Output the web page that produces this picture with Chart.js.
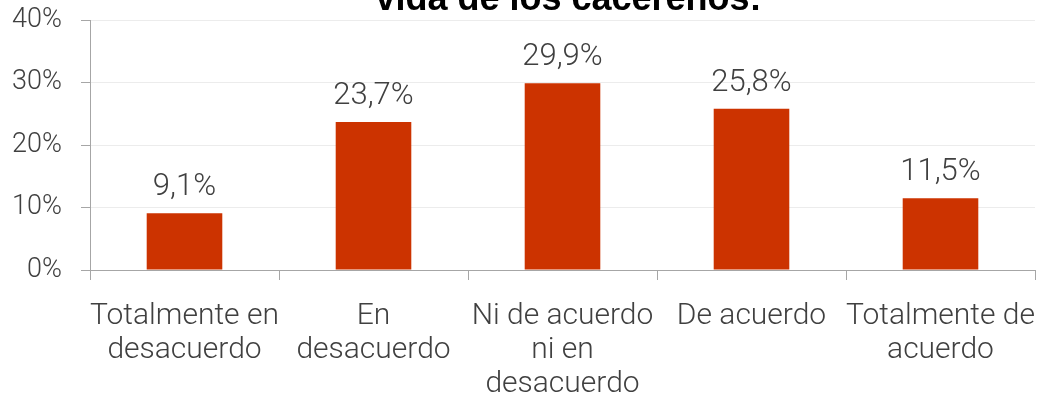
<!DOCTYPE html>
<html>
<head>
<meta charset="utf-8">
<script src="https://cdn.jsdelivr.net/npm/chart.js@4"></script>
<style>
  html, body { margin: 0; padding: 0; background: #fff; }
  #wrap { width: 1040px; height: 401px; }
</style>
</head>
<body>
<div id="wrap"><canvas id="barchart"></canvas></div>
<script>
const categories = [
  ['Totalmente en', 'desacuerdo'],
  ['En', 'desacuerdo'],
  ['Ni de acuerdo', 'ni en', 'desacuerdo'],
  ['De acuerdo'],
  ['Totalmente de', 'acuerdo']
];
const values = [9.1, 23.7, 29.9, 25.8, 11.5];
const yTicks = [0, 10, 20, 30, 40];
const titleText = 'vida de los cacereños:';

const textColor = '#404040';
const axisColor = '#a6a6a6';

// percent with comma decimal
const fmt = v => v.toFixed(1).replace('.', ',') + '%';

// draws the value above each bar
const valueLabels = {
  id: 'valueLabels',
  afterDatasetsDraw(chart) {
    const ctx = chart.ctx;
    const meta = chart.getDatasetMeta(0);
    ctx.save();
    ctx.font = '300 31px Roboto';
    ctx.fillStyle = textColor;
    ctx.textAlign = 'center';
    ctx.textBaseline = 'alphabetic';
    meta.data.forEach((bar, i) => {
      ctx.fillText(fmt(values[i]), bar.x, bar.y - 18);
    });
    ctx.restore();
  }
};

// last line of the title, cut by the top edge
const topTitle = {
  id: 'topTitle',
  afterDraw(chart) {
    const ctx = chart.ctx;
    const area = chart.chartArea;
    ctx.save();
    ctx.font = 'bold 36px "Liberation Sans", Arial';
    ctx.fillStyle = '#000';
    ctx.textAlign = 'center';
    ctx.fillText(titleText, (area.left + area.right) / 2 + 6, 10);
    ctx.restore();
  }
};

const barchart = document.getElementById('barchart');

new Chart(barchart, {
  type: 'bar',
  data: {
    labels: categories,
    datasets: [{
      data: values,
      backgroundColor: '#cc3300',
      borderWidth: 0,
      barPercentage: 0.4,
      categoryPercentage: 1
    }]
  },
  options: {
    responsive: true,
    maintainAspectRatio: false,
    animation: false,
    layout: { padding: { top: 20, right: 5, left: 0, bottom: 0 } },
    plugins: {
      legend: { display: false },
      tooltip: { enabled: false }
    },
    scales: {
      x: {
        afterFit: axis => {
          axis.height = 131;
          axis.paddingLeft = 0;
          axis.paddingRight = 0;
        },
        grid: {
          display: true,
          drawOnChartArea: false,
          offset: true,
          tickLength: 10,
          color: axisColor
        },
        border: { color: axisColor, width: 1 },
        ticks: {
          autoSkip: false,
          maxRotation: 0,
          padding: 20,
          color: textColor,
          font: { family: 'Roboto', weight: 300, size: 30, lineHeight: 1.13 }
        }
      },
      y: {
        min: 0,
        max: 40,
        afterBuildTicks: axis => {
          axis.ticks = yTicks.map(v => ({ value: v }));
        },
        afterFit: axis => {
          axis.width = 90;
          axis.paddingTop = 0;
          axis.paddingBottom = 0;
        },
        grid: {
          color: '#ececec',
          tickColor: axisColor,
          tickLength: 9
        },
        border: { color: axisColor, width: 1 },
        ticks: {
          padding: 19,
          color: textColor,
          font: { family: 'Roboto', weight: 300, size: 27 },
          callback: v => v + '%'
        }
      }
    }
  },
  plugins: [valueLabels, topTitle]
});
</script>
</body>
</html>
